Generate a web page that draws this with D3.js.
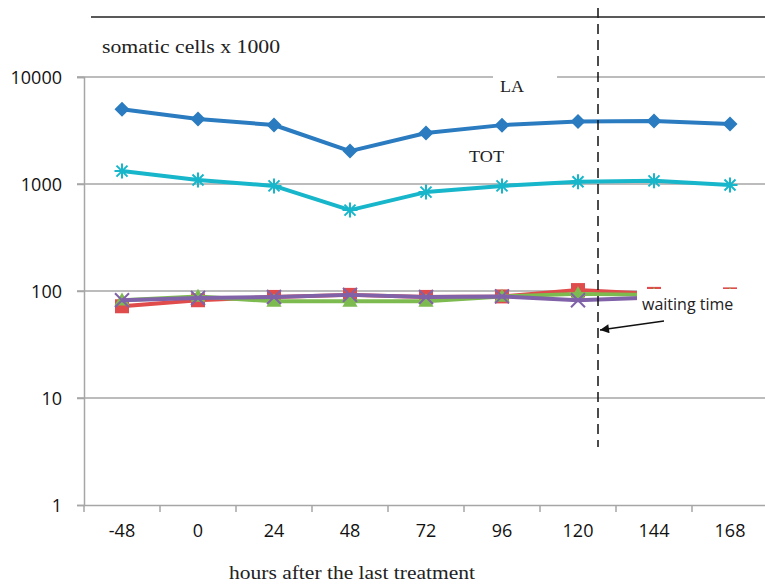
<!DOCTYPE html>
<meta charset="utf-8">
<html>
<head>
    <title>somatic cells</title>
    <script src="https://cdn.jsdelivr.net/npm/d3@7/dist/d3.min.js"></script>
    <style>
        html, body { margin: 0; padding: 0; background: #fff; }
        svg { display: block; }
    </style>
</head>
<body>
    <svg id="svg"></svg>
    <script>
        // categories (hours) and series values
        var hours = ["-48", "0", "24", "48", "72", "96", "120", "144", "168"];
        var la    = [5000, 4050, 3560, 2030, 3000, 3550, 3830, 3880, 3640];
        var tot   = [1320, 1090, 960, 570, 840, 960, 1050, 1070, 980];
        var red   = [72, 82, 88, 92, 88, 89, 102, 94, 93];
        var green = [82, 89, 80, 80, 80, 89, 94, 92, 92];
        var purple= [82, 86, 88, 92, 88, 89, 82, 87, 88];
        var yTicks = [1, 10, 100, 1000, 10000];

        var width = 765, height = 588;
        var svg = d3.select("#svg").attr("width", width).attr("height", height);

        var x = d3.scaleBand().domain(hours).range([84, 768]);
        var y = d3.scaleLog().domain([1, 10000]).range([505, 77]);
        var cx = function (d, i) { return x(hours[i]) + x.bandwidth() / 2; };

        // gridlines
        svg.append("g").selectAll("line")
            .data(yTicks.slice(1))
            .enter().append("line")
            .attr("x1", 77).attr("x2", width)
            .attr("y1", function (d) { return y(d); })
            .attr("y2", function (d) { return y(d); })
            .attr("stroke", "#a6a6a6").attr("stroke-width", 1.5);

        // y axis
        var yAxis = d3.axisLeft(y).tickValues(yTicks).tickFormat(d3.format("d")).tickSize(7).tickPadding(15);
        var gy = svg.append("g").attr("transform", "translate(84,0)").call(yAxis);
        gy.select(".domain").attr("stroke", "#a6a6a6").attr("stroke-width", 1.5);
        gy.selectAll(".tick line").attr("stroke", "#a6a6a6").attr("stroke-width", 1.5);
        gy.selectAll(".tick text").attr("font-family", "Open Sans").attr("font-size", 18).attr("fill", "#111").attr("dy", "0.35em");

        // x axis
        var xAxis = d3.axisBottom(x).tickSize(0).tickPadding(19);
        var gx = svg.append("g").attr("transform", "translate(0,505)").call(xAxis);
        gx.select(".domain").attr("stroke", "#a6a6a6").attr("stroke-width", 1.5);
        gx.selectAll(".tick text").attr("font-family", "Open Sans").attr("font-size", 18).attr("fill", "#111");
        gx.append("g").selectAll("line")
            .data(hours)
            .enter().append("line")
            .attr("x1", function (d) { return x(d); })
            .attr("x2", function (d) { return x(d); })
            .attr("y1", 0).attr("y2", 7)
            .attr("stroke", "#a6a6a6").attr("stroke-width", 1.5);

        // gap in the top gridline for "LA"
        svg.append("rect").attr("x", 493).attr("y", 70).attr("width", 64).attr("height", 14).attr("fill", "#fff");

        var line = d3.line().x(cx).y(function (d) { return y(d); });

        function series(data, color) {
            var g = svg.append("g");
            g.append("path").datum(data)
                .attr("d", line)
                .attr("fill", "none")
                .attr("stroke", color)
                .attr("stroke-width", 4)
                .attr("stroke-linejoin", "round");
            return g;
        }

        // LA - diamonds
        series(la, "#2a7bc0").selectAll("path.m")
            .data(la).enter().append("path")
            .attr("transform", function (d, i) { return "translate(" + cx(d, i) + "," + y(d) + ")"; })
            .attr("d", "M0,-7.5L7.5,0L0,7.5L-7.5,0Z")
            .attr("fill", "#2a7bc0");

        // TOT - asterisks
        series(tot, "#17b6ca").selectAll("path.m")
            .data(tot).enter().append("path")
            .attr("transform", function (d, i) { return "translate(" + cx(d, i) + "," + y(d) + ")"; })
            .attr("d", "M-7.5,0H7.5M0,-7.5V7.5M-5.5,-5.5L5.5,5.5M-5.5,5.5L5.5,-5.5")
            .attr("stroke", "#17b6ca").attr("stroke-width", 2).attr("fill", "none");

        // red - squares
        series(red, "#e04b4b").selectAll("rect")
            .data(red).enter().append("rect")
            .attr("x", function (d, i) { return cx(d, i) - 7; })
            .attr("y", function (d) { return y(d) - 7; })
            .attr("width", 14).attr("height", 14)
            .attr("fill", "#e04b4b");

        // green - triangles
        series(green, "#7dba4f").selectAll("path.m")
            .data(green).enter().append("path")
            .attr("transform", function (d, i) { return "translate(" + cx(d, i) + "," + (y(d) + 1) + ")"; })
            .attr("d", d3.symbol(d3.symbolTriangle, 100))
            .attr("fill", "#7dba4f");

        // purple - crosses
        series(purple, "#8062a8").selectAll("path.m")
            .data(purple).enter().append("path")
            .attr("transform", function (d, i) { return "translate(" + cx(d, i) + "," + y(d) + ")"; })
            .attr("d", "M-7,-7L7,7M-7,7L7,-7")
            .attr("stroke", "#8062a8").attr("stroke-width", 2);

        // label box for "waiting time"
        svg.append("rect").attr("x", 637).attr("y", 289).attr("width", 130).attr("height", 30).attr("fill", "#fff");
        svg.append("text").attr("x", 642).attr("y", 310)
            .attr("font-family", "Open Sans").attr("font-size", 16).attr("fill", "#222")
            .text("waiting time");

        // arrow
        svg.append("defs").append("marker")
            .attr("id", "arrow").attr("viewBox", "0 0 10 10")
            .attr("refX", 10).attr("refY", 5)
            .attr("markerWidth", 12).attr("markerHeight", 9)
            .attr("markerUnits", "userSpaceOnUse")
            .attr("orient", "auto")
            .append("path").attr("d", "M0,0L10,5L0,10Z").attr("fill", "#111");
        svg.append("line").attr("x1", 664).attr("y1", 321).attr("x2", 600).attr("y2", 330)
            .attr("stroke", "#111").attr("stroke-width", 1.3).attr("marker-end", "url(#arrow)");

        // dashed vertical line
        svg.append("line").attr("x1", 598).attr("x2", 598).attr("y1", 8).attr("y2", 447)
            .attr("stroke", "#111").attr("stroke-width", 1.5).attr("stroke-dasharray", "10,6");

        // top rule
        svg.append("line").attr("x1", 91).attr("x2", width).attr("y1", 17).attr("y2", 17)
            .attr("stroke", "#222").attr("stroke-width", 1.5);

        var serif = "Liberation Serif, Times New Roman, serif";
        function label(tx, ty, size, len, s) {
            svg.append("text").attr("x", tx).attr("y", ty)
                .attr("font-family", serif).attr("font-size", size).attr("fill", "#222")
                .attr("textLength", len).attr("lengthAdjust", "spacingAndGlyphs")
                .text(s);
        }
        label(102, 53, 19, 178, "somatic cells x 1000");
        label(500, 92, 16, 24, "LA");
        label(469, 162, 16, 35, "TOT");
        label(229, 579, 19, 246, "hours after the last treatment");
    </script>
</body>
</html>
